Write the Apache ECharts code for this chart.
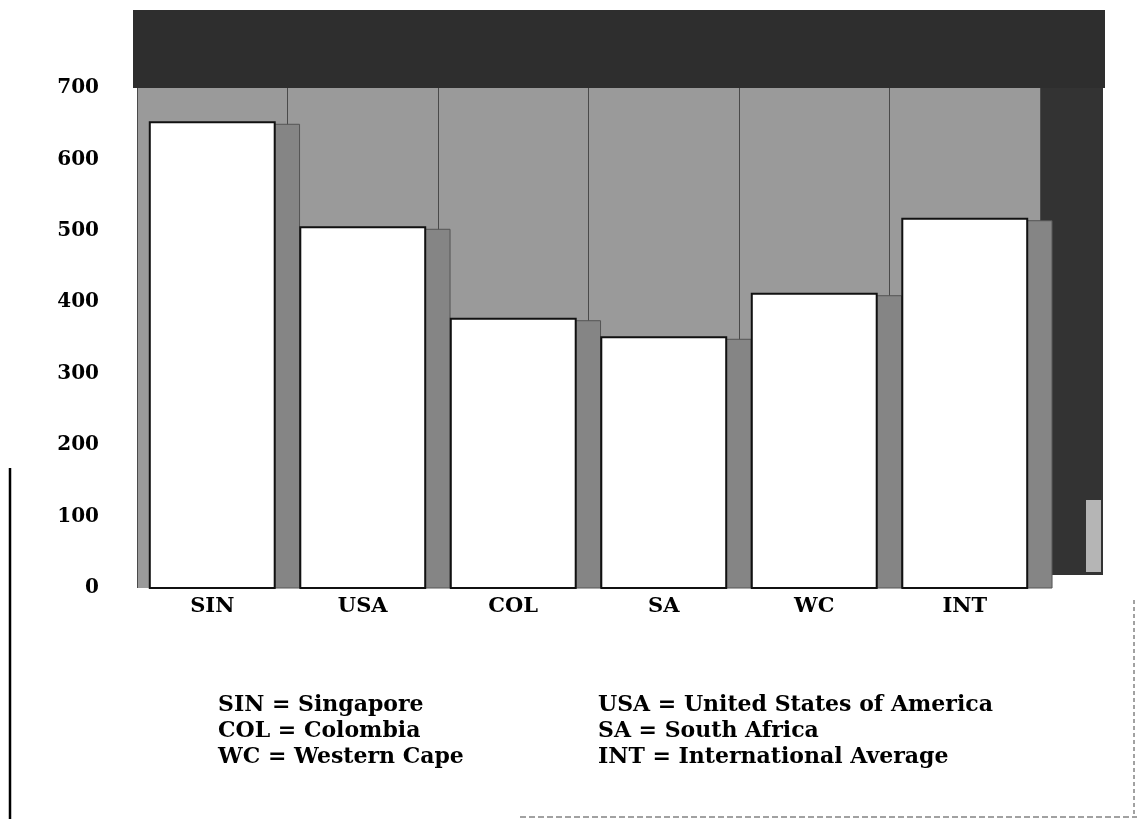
<!DOCTYPE html>
<html>
<head>
<meta charset="utf-8">
<script src="https://cdn.jsdelivr.net/npm/echarts@6/dist/echarts.min.js"></script>
<style>
html,body{margin:0;padding:0;background:#fff;}
#chart{width:1137px;height:819px;}
</style>
</head>
<body>
<div id="chart"></div>
<script>
const categories = ['SIN', 'USA', 'COL', 'SA', 'WC', 'INT'];
const scores = [652, 505, 377, 351, 412, 517];
const yTicks = [0, 100, 200, 300, 400, 500, 600, 700];
const legendLeft = ['SIN = Singapore', 'COL = Colombia', 'WC = Western Cape'];
const legendRight = ['USA = United States of America', 'SA = South Africa', 'INT = International Average'];

const serif = '"DejaVu Serif", "Liberation Serif", serif';
const chart = echarts.init(document.getElementById('chart'));

const option = {
  backgroundColor: '#ffffff',
  animation: false,
  grid: {
    left: 137, right: 97, top: 88, bottom: 231,
    show: true, backgroundColor: '#9a9a9a', borderWidth: 0
  },
  xAxis: {
    type: 'category',
    data: categories,
    boundaryGap: true,
    axisLine: { show: false },
    axisTick: { show: false },
    splitLine: { show: true, interval: 0, lineStyle: { color: '#4a4a4a', width: 1 } },
    axisLabel: { margin: 8, color: '#000', fontFamily: serif, fontSize: 21, fontWeight: 'bold' }
  },
  yAxis: {
    type: 'value',
    min: 0, max: 700, interval: 100,
    axisLine: { show: false },
    axisTick: { show: false },
    splitLine: { show: false },
    axisLabel: {
      margin: 38, color: '#000', fontFamily: serif, fontSize: 20, fontWeight: 'bold',
      formatter: v => yTicks.includes(v) ? String(v) : ''
    }
  },
  graphic: [
    { type: 'rect', z: -1, shape: { x: 133, y: 10, width: 972, height: 78 }, style: { fill: '#2e2e2e' } },
    { type: 'rect', z: -1, shape: { x: 1040, y: 88, width: 63, height: 487 }, style: { fill: '#333333' } },
    { type: 'rect', z: -1, shape: { x: 1086, y: 500, width: 15, height: 72 }, style: { fill: '#b5b5b5' } },
    { type: 'line', shape: { x1: 10, y1: 468, x2: 10, y2: 819 }, style: { stroke: '#000', lineWidth: 2.5 } },
    { type: 'line', shape: { x1: 520, y1: 817, x2: 1137, y2: 817 }, style: { stroke: '#444', lineWidth: 1, lineDash: [6, 3] } },
    { type: 'line', shape: { x1: 1134, y1: 600, x2: 1134, y2: 817 }, style: { stroke: '#444', lineWidth: 1, lineDash: [4, 3] } },
    { type: 'text', left: 218, top: 692, style: { text: legendLeft.join('\n'), font: 'bold 22px ' + serif, fill: '#000', lineHeight: 26 } },
    { type: 'text', left: 598, top: 692, style: { text: legendRight.join('\n'), font: 'bold 22px ' + serif, fill: '#000', lineHeight: 26 } }
  ],
  series: [{
    type: 'custom',
    data: scores.map((v, i) => [i, v]),
    encode: { x: 0, y: 1 },
    renderItem: function (params, api) {
      const top = api.coord([api.value(0), api.value(1)]);
      const base = api.coord([api.value(0), 0]);
      const band = api.size([1, 0])[0];
      const w = band * 0.83;
      const x0 = top[0] - w / 2;
      const sw = band * 0.165;
      return {
        type: 'group',
        children: [
          { type: 'rect', shape: { x: x0 + w, y: top[1] + 2, width: sw, height: base[1] - top[1] - 2 },
            style: { fill: '#858585', stroke: '#555', lineWidth: 1 } },
          { type: 'rect', shape: { x: x0, y: top[1], width: w, height: base[1] - top[1] },
            style: { fill: '#ffffff', stroke: '#111', lineWidth: 2 } }
        ]
      };
    }
  }]
};
chart.setOption(option);
</script>
</body>
</html>
